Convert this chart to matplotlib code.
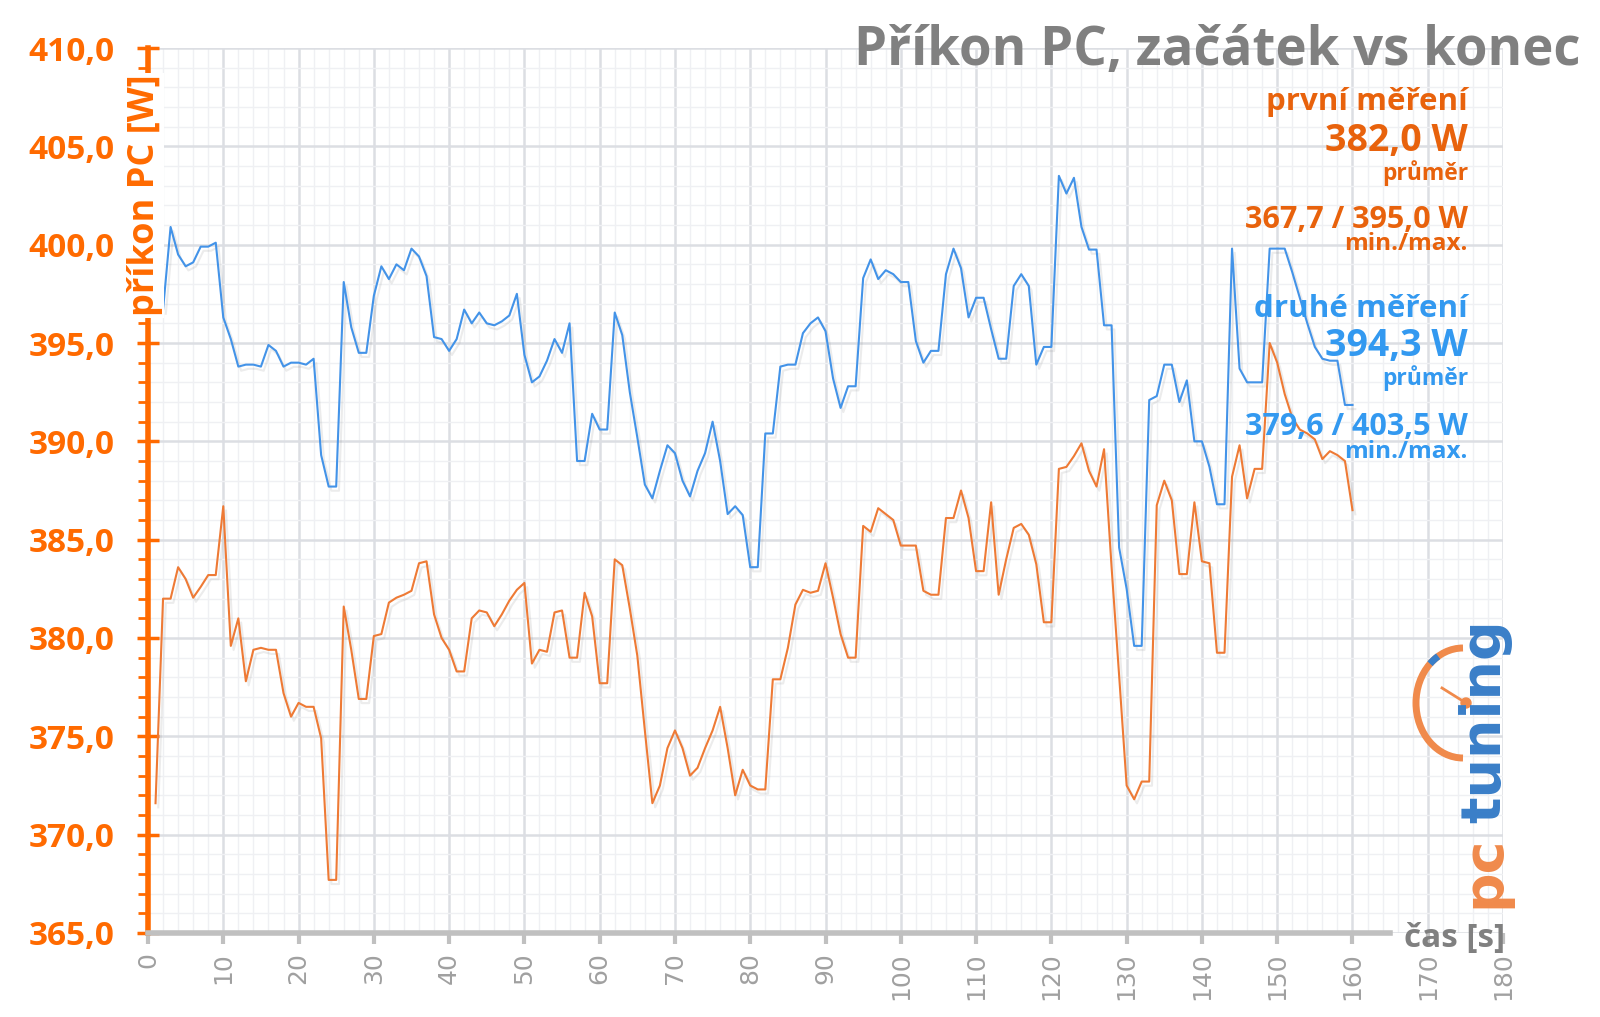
"""
Příkon PC, začátek vs konec - two power-draw runs over time.
"""

import matplotlib
matplotlib.use('Agg')
import matplotlib.pyplot as plt
import matplotlib.patheffects as pe
from matplotlib.patches import Arc, Circle

# ---------------------------------------------------------------------------
# Data
# ---------------------------------------------------------------------------

first_t = list(range(1, 161))
first_w = [
    371.6, 382.0, 382.0, 383.6, 383.0, 382.05, 382.6, 383.2, 383.2, 386.7,
    379.6, 381.0, 377.8, 379.4, 379.5, 379.4, 379.4, 377.2, 376.0, 376.7,
    376.5, 376.5, 374.9, 367.7, 367.7, 381.6, 379.4, 376.9, 376.9, 380.1,
    380.2, 381.8, 382.05, 382.2, 382.4, 383.8, 383.9, 381.2, 380.0, 379.4,
    378.3, 378.3, 381.0, 381.4, 381.3, 380.6, 381.2, 381.9, 382.45, 382.8,
    378.7, 379.4, 379.3, 381.3, 381.4, 379.0, 379.0, 382.3, 381.1, 377.7,
    377.7, 384.0, 383.7, 381.5, 379.1, 375.3, 371.6, 372.5, 374.4, 375.3,
    374.4, 373.0, 373.4, 374.4, 375.3, 376.5, 374.4, 372.0, 373.3, 372.5,
    372.3, 372.3, 377.9, 377.9, 379.5, 381.7, 382.45, 382.3, 382.4, 383.8,
    382.05, 380.2, 379.0, 379.0, 385.7, 385.4, 386.6, 386.3, 386.0, 384.7,
    384.7, 384.7, 382.4, 382.2, 382.2, 386.1, 386.1, 387.5, 386.1, 383.4,
    383.4, 386.9, 382.2, 384.0, 385.6, 385.8, 385.25, 383.75, 380.8, 380.8,
    388.6, 388.7, 389.25, 389.9, 388.5, 387.7, 389.6, 383.6, 378.1, 372.5,
    371.8, 372.7, 372.7, 386.75, 388.0, 387.0, 383.25, 383.25, 386.9, 383.9,
    383.8, 379.25, 379.25, 388.2, 389.8, 387.1, 388.6, 388.6, 395.0, 394.0,
    392.4, 391.2, 390.6, 390.4, 390.1, 389.1, 389.5, 389.3, 389.0, 386.5,
]

second_t = list(range(2, 161))
second_w = [
    396.7, 400.9, 399.5, 398.9, 399.1, 399.9, 399.9, 400.1, 396.3,
    395.2, 393.8, 393.9, 393.9, 393.8, 394.9, 394.6, 393.8, 394.0, 394.0,
    393.9, 394.2, 389.3, 387.7, 387.7, 398.1, 395.8, 394.5, 394.5, 397.4,
    398.9, 398.25, 399.0, 398.7, 399.8, 399.4, 398.4, 395.3, 395.2, 394.6,
    395.2, 396.7, 396.0, 396.55, 396.0, 395.9, 396.1, 396.4, 397.5, 394.4,
    393.0, 393.3, 394.1, 395.2, 394.5, 396.0, 389.0, 389.0, 391.4, 390.6,
    390.6, 396.55, 395.4, 392.5, 390.2, 387.8, 387.1, 388.5, 389.8, 389.4,
    388.0, 387.2, 388.5, 389.4, 391.0, 389.0, 386.3, 386.7, 386.25, 383.6,
    383.6, 390.4, 390.4, 393.8, 393.9, 393.9, 395.5, 396.0, 396.3, 395.6,
    393.2, 391.7, 392.8, 392.8, 398.3, 399.25, 398.25, 398.7, 398.5, 398.1,
    398.1, 395.1, 394.0, 394.6, 394.6, 398.5, 399.8, 398.8, 396.3, 397.3,
    397.3, 395.7, 394.2, 394.2, 397.9, 398.5, 397.9, 393.9, 394.8, 394.8,
    403.5, 402.6, 403.4, 400.9, 399.75, 399.75, 395.9, 395.9, 384.6, 382.5,
    379.6, 379.6, 392.1, 392.3, 393.9, 393.9, 392.0, 393.1, 390.0, 390.0,
    388.7, 386.8, 386.8, 399.8, 393.7, 393.0, 393.0, 393.0, 399.8, 399.8,
    399.8, 398.6, 397.3, 396.0, 394.8, 394.2, 394.1, 394.1, 391.85, 391.85,
]

x_ticks = list(range(0, 181, 10))
y_ticks = [365, 370, 375, 380, 385, 390, 395, 400, 405, 410]
y_labels = ['365,0', '370,0', '375,0', '380,0', '385,0',
            '390,0', '395,0', '400,0', '405,0', '410,0']

first_stats = ['první měření', '382,0 W', 'průměr', '367,7 / 395,0 W', 'min./max.']
second_stats = ['druhé měření', '394,3 W', 'průměr', '379,6 / 403,5 W', 'min./max.']

ORANGE_AXIS = '#ff6a00'
ORANGE_LINE = '#ee7a35'
ORANGE_TEXT = '#e8620c'
BLUE_LINE = '#4393e8'
BLUE_TEXT = '#3399f0'
GRAY_TEXT = '#808080'

# ---------------------------------------------------------------------------
# Figure
# ---------------------------------------------------------------------------

fig = plt.figure(figsize=(16, 10.17), dpi=100)
ax = fig.add_axes([0.0925, 0.0826, 0.8469, 0.8702])

ax.set_xlim(0, 180)
ax.set_ylim(365, 410)

ax.set_xticks(x_ticks)
ax.set_xticks(range(0, 181, 2), minor=True)
ax.set_yticks(y_ticks)
ax.set_yticks(range(365, 411), minor=True)
ax.set_yticklabels(y_labels)

ax.grid(which='major', color='#dcdee3', lw=1.8, zorder=0)
ax.grid(which='minor', color='#eff0f3', lw=1.0, zorder=0)
ax.set_axisbelow(True)

shadow = [pe.SimpleLineShadow(offset=(2, -3), shadow_color='#808080', alpha=0.15),
          pe.Normal()]
ax.plot(first_t, first_w, color=ORANGE_LINE, lw=1.5, zorder=3, path_effects=shadow)
ax.plot(second_t, second_w, color=BLUE_LINE, lw=1.5, zorder=3, path_effects=shadow)

# axes styling
for s in ('top', 'right'):
    ax.spines[s].set_visible(False)
ax.spines['left'].set_color(ORANGE_AXIS)
ax.spines['left'].set_linewidth(4)
ax.spines['bottom'].set_color('#c0c0c0')
ax.spines['bottom'].set_linewidth(4)
ax.spines['bottom'].set_bounds(0, 165)

ax.tick_params(axis='y', which='major', direction='inout', length=16, width=2.5,
               color=ORANGE_AXIS, labelcolor=ORANGE_AXIS, labelsize=24, pad=16)
ax.tick_params(axis='y', which='minor', direction='out', length=7, width=2,
               color=ORANGE_AXIS)
ax.tick_params(axis='x', which='major', direction='out', length=8, width=3,
               color='#c0c0c0', labelcolor='#a0a0a0', labelsize=18,
               labelrotation=90, pad=6)
ax.tick_params(axis='x', which='minor', length=0)
for lbl in ax.get_yticklabels():
    lbl.set_fontweight('bold')
    lbl.set_family('Open Sans')

# axis titles
fig.text(0.0905, 0.808, 'příkon PC [W]', rotation=90, ha='center', va='center',
         color=ORANGE_AXIS, fontsize=26, fontweight='bold', family='Open Sans',
         bbox=dict(facecolor='white', edgecolor='none', pad=1))
fig.text(0.9406, 0.0775, 'čas [s]', ha='right', va='center', color=GRAY_TEXT,
         fontsize=24, fontweight='bold', family='Open Sans')

# title
fig.text(0.988, 0.936, 'Příkon PC, začátek vs konec', ha='right', va='baseline',
         fontsize=38, fontweight='bold', color=GRAY_TEXT, family='Open Sans')

# per-run stats block
first_sizes = [22.5, 27, 16.5, 22, 17.5]
second_sizes = [22.6, 27, 16.5, 22, 17.5]
first_y = [0.8918, 0.8520, 0.8235, 0.7758, 0.7542]
second_y = [0.6883, 0.6495, 0.6215, 0.5723, 0.5497]
for txt, y, sz in zip(first_stats, first_y, first_sizes):
    fig.text(0.9175, y, txt, ha='right', va='baseline', fontsize=sz,
             fontweight='bold', color=ORANGE_TEXT, family='Open Sans', zorder=5)
for txt, y, sz in zip(second_stats, second_y, second_sizes):
    fig.text(0.9175, y, txt, ha='right', va='baseline', fontsize=sz,
             fontweight='bold', color=BLUE_TEXT, family='Open Sans', zorder=5)

# pctuning logo (approximate)
fig.text(0.928, 0.291, 'tuning', rotation=90, ha='center', va='center',
         fontsize=40, fontweight='bold', color='#3a7fc8', family='DejaVu Sans')
fig.text(0.928, 0.1426, 'pc', rotation=90, ha='center', va='center',
         fontsize=40, fontweight='bold', color='#f08a4b', family='DejaVu Sans')
tr = fig.dpi_scale_trans
fig.add_artist(Arc((14.63, 3.14), 0.94, 1.1, theta1=90, theta2=270,
                   lw=5, color='#f08a4b', transform=tr))
fig.add_artist(Arc((14.63, 3.14), 0.94, 1.1, theta1=118, theta2=130,
                   lw=5, color='#3a7fc8', transform=tr))
fig.add_artist(plt.Line2D([14.42, 14.66], [3.29, 3.14], lw=2, color='#f08a4b',
                          transform=tr))
fig.add_artist(Circle((14.66, 3.14), 0.05, color='#f08a4b', transform=tr))

fig.savefig('out.png', dpi=100)
print('Saved: out.png')
